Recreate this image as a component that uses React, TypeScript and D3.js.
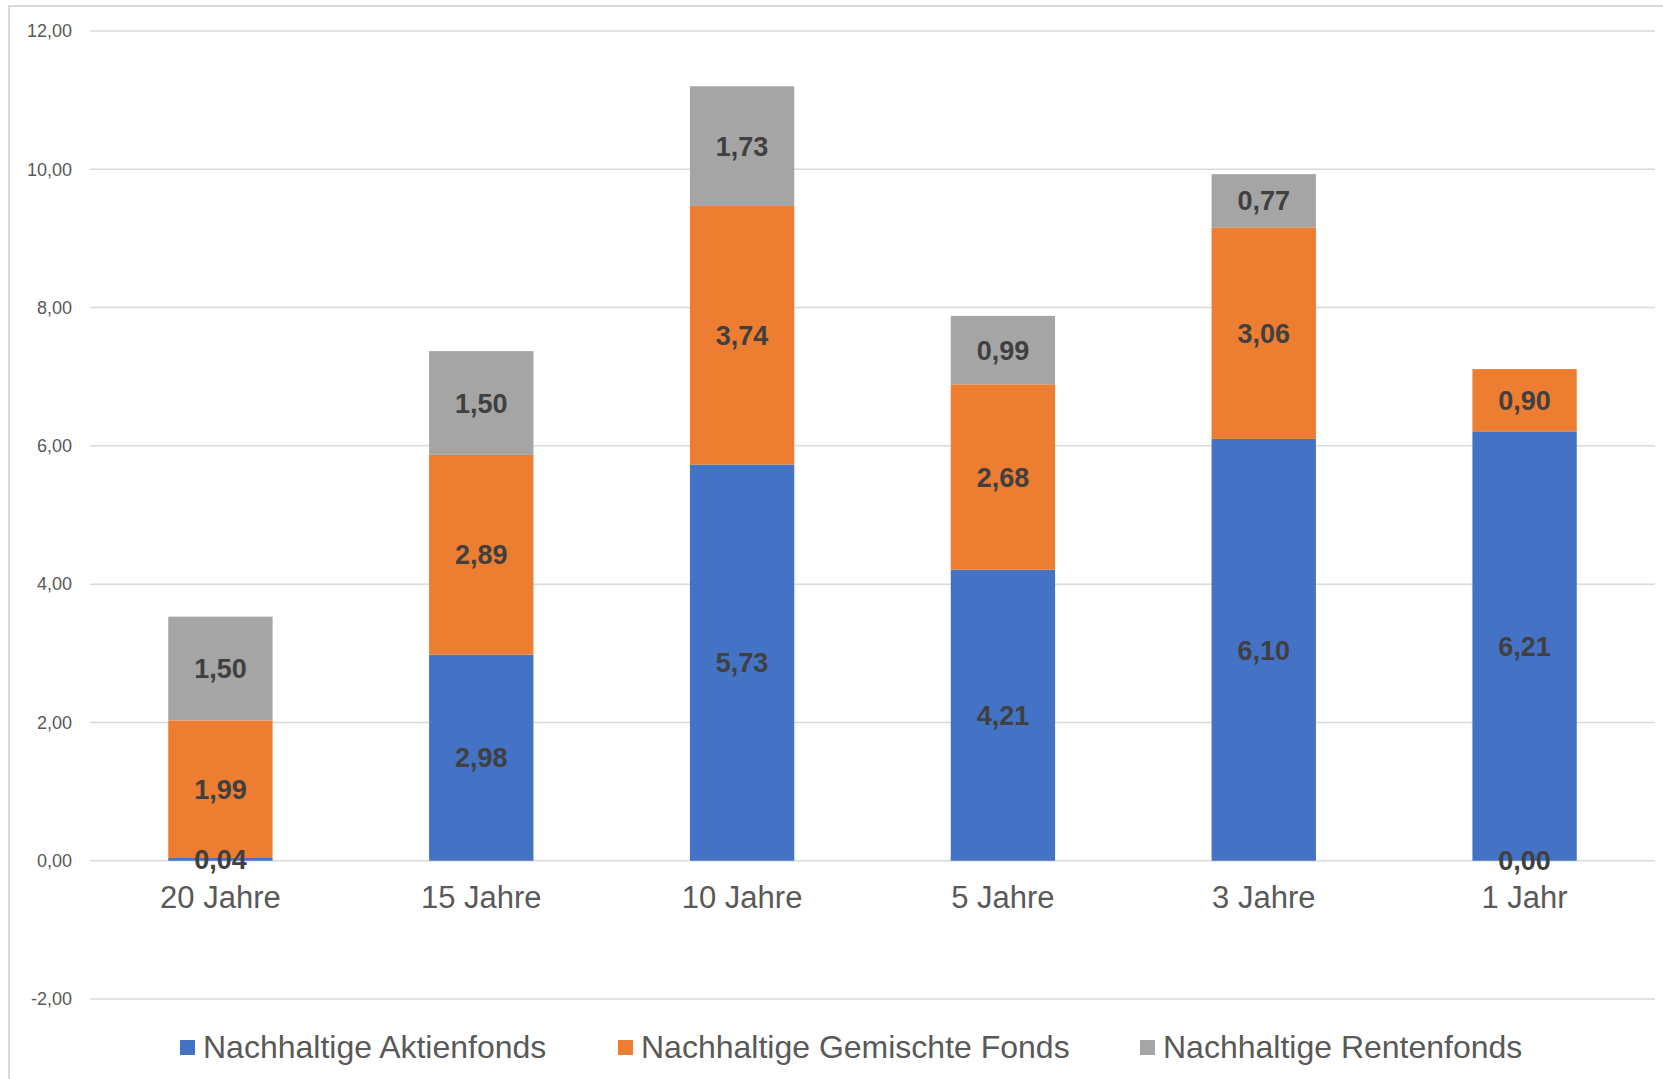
import React from "react";
import * as d3 from "d3";

const categories = ["20 Jahre", "15 Jahre", "10 Jahre", "5 Jahre", "3 Jahre", "1 Jahr"];
const seriesNames = ["Nachhaltige Aktienfonds", "Nachhaltige Gemischte Fonds", "Nachhaltige Rentenfonds"];
const aktien = [0.04, 2.98, 5.73, 4.21, 6.1, 6.21];
const gemischte = [1.99, 2.89, 3.74, 2.68, 3.06, 0.9];
const renten = [1.5, 1.5, 1.73, 0.99, 0.77, 0.0];
const yTicks = [-2, 0, 2, 4, 6, 8, 10, 12];
const colors = ["#4472C4", "#ED7D31", "#A5A5A5"];

const W = 1663;
const H = 1079;
const plotLeft = 90;
const plotRight = 1655;
const plotTop = 31;
const plotBottom = 999;
const FONT = "'Liberation Sans', Arial, sans-serif";

const fmt = (v: number) => v.toFixed(2).replace(".", ",");

export default function App() {
  const rows = categories.map((c, i) => ({ cat: c, s0: aktien[i], s1: gemischte[i], s2: renten[i] }));
  const stack = d3.stack<any>().keys(["s0", "s1", "s2"]);
  const stacked = stack(rows);

  const x = d3.scaleBand().domain(categories).range([plotLeft, plotRight]).paddingInner(0.6).paddingOuter(0.3);
  const y = d3.scaleLinear().domain([-2, 12]).range([plotBottom, plotTop]);

  return (
    <svg width={W} height={H} style={{ position: "absolute", left: 0, top: 0, background: "#fff" }}>
      <rect x={9} y={6} width={W} height={H} fill="#fff" stroke="#d9d9d9" strokeWidth={2} />
      {yTicks.map((t) => (
        <g key={t}>
          <line x1={plotLeft} x2={plotRight} y1={y(t)} y2={y(t)} stroke="#d9d9d9" strokeWidth={1.5} />
          <text x={72} y={y(t)} dy="0.35em" textAnchor="end" fontFamily={FONT} fontSize={18} fill="#595959">
            {fmt(t)}
          </text>
        </g>
      ))}
      {stacked.map((layer, si) =>
        layer.map((d, i) => {
          const x0 = x(categories[i])!;
          const bw = x.bandwidth();
          const y0 = y(d[0]);
          const y1 = y(d[1]);
          return (
            <rect key={`${si}-${i}`} x={x0} y={Math.min(y0, y1)} width={bw} height={Math.abs(y0 - y1)} fill={colors[si]} />
          );
        })
      )}
      {stacked.map((layer, si) =>
        layer.map((d, i) => {
          const v = d[1] - d[0];
          const cx = x(categories[i])! + x.bandwidth() / 2;
          const cy = v === 0 ? y(0) : y((d[0] + d[1]) / 2);
          return (
            <text key={`l-${si}-${i}`} x={cx} y={cy} dy="0.36em" textAnchor="middle" fontFamily={FONT} fontSize={27} fontWeight="bold" fill="#404040">
              {fmt(v)}
            </text>
          );
        })
      )}
      {categories.map((c) => (
        <text key={c} x={x(c)! + x.bandwidth() / 2} y={908} textAnchor="middle" fontFamily={FONT} fontSize={31} fill="#595959">
          {c}
        </text>
      ))}
      {seriesNames.map((s, i) => {
        const sx = [180, 618, 1140][i];
        return (
          <g key={s}>
            <rect x={sx} y={1040} width={15} height={15} fill={colors[i]} />
            <text x={sx + 23} y={1058} fontFamily={FONT} fontSize={32} fill="#595959">
              {s}
            </text>
          </g>
        );
      })}
    </svg>
  );
}
